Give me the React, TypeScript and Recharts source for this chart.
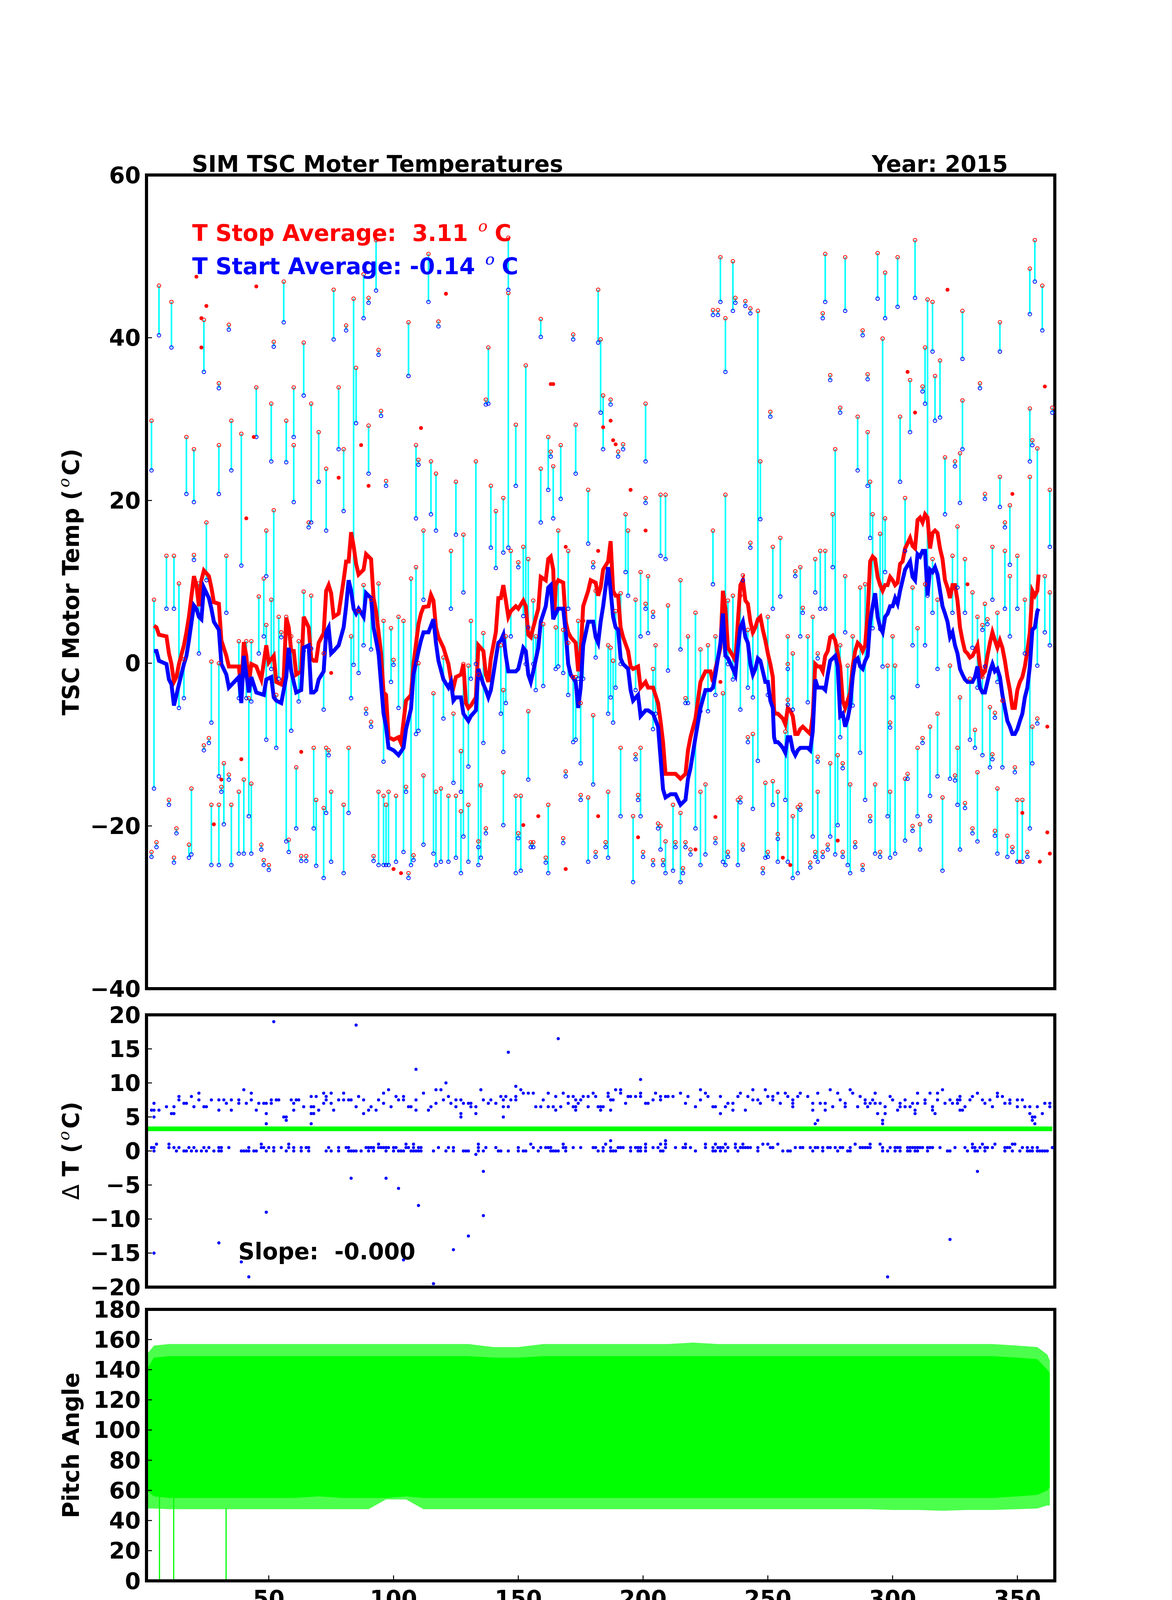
import React from 'react';
import { ComposedChart, Line, Scatter, Area, XAxis, YAxis } from 'recharts';

const FONT = 'DejaVu Sans';
const PAGE_W = 3000;
const PAGE_H = 4492;

const DAY_DOMAIN: [number, number] = [1, 365];
const DAY_TICKS = [50, 100, 150, 200, 250, 300, 350];
const TEMP_TICKS = [-40, -20, 0, 20, 40, 60];
const DELTA_TICKS = [-20, -15, -10, -5, 0, 5, 10, 15, 20];
const PITCH_TICKS = [0, 20, 40, 60, 80, 100, 120, 140, 160, 180];

const YEAR = 2015;
const STOP_AVERAGE = '3.11';
const START_AVERAGE = '-0.14';
const SLOPE = '-0.000';

// one entry per move: [yday, T stop, T start]
const tscMoves: [number, number, number][] = [
  [3, 29.8, 23.7], [3, -23.2, -23.8], [4, 7.8, -15.4], [5, -22.0, -22.6], [6, 46.4, 40.3],
  [9, 13.2, 6.7], [10, -16.8, -17.4], [11, 44.4, 38.8], [12, 13.2, 6.7], [12, -23.9, -24.5],
  [13, -20.3, -20.9], [14, 9.8, -5.5], [16, 0.5, -4.3], [17, 27.8, 20.8], [18, -22.3, -23.9],
  [19, -15.4, -23.5], [20, 26.3, 19.8], [20, 13.3, 12.7], [22, 9.8, 1.2], [24, 42.2, 35.8],
  [24, -10.1, -10.7], [25, 17.3, 10.2], [26, -9.2, -9.8], [27, 0.2, -7.3], [27, -17.4, -24.8],
  [30, 26.8, 20.8], [30, 34.4, 33.8], [30, 0.0, -13.9], [30, -17.4, -24.8], [31, -15.2, -15.8],
  [32, -12.3, -19.8], [33, 13.2, 6.2], [34, 41.6, 41.0], [34, -13.7, -14.3], [35, 29.8, 23.7],
  [35, -17.4, -24.8], [38, 2.7, -4.3], [38, -15.8, -23.4], [39, 28.2, 12.0], [40, -14.3, -23.4],
  [41, 2.7, -4.3], [42, -4.3, -18.8], [43, 2.7, -4.7], [43, -14.8, -23.4], [45, 33.9, 27.8],
  [46, 8.2, 1.2], [47, -22.3, -22.9], [48, 10.4, 3.3], [48, -24.2, -24.8], [49, 16.3, 10.7],
  [49, 4.7, -9.4], [50, -24.8, -25.4], [51, 31.9, 24.8], [51, 7.8, -0.7], [52, 18.8, -4.0],
  [52, 39.5, 38.9], [53, -3.9, -10.4], [54, 5.7, -1.9], [55, 3.8, 3.2], [56, 46.9, 41.9],
  [57, 29.8, 24.7], [57, 5.7, -21.9], [58, -21.7, -23.2], [59, 3.3, -8.3], [60, 33.9, 27.8],
  [60, 26.8, 19.8], [61, -12.8, -20.3], [62, 2.7, -4.7], [63, -23.7, -24.3], [64, 39.4, 32.9],
  [64, 8.8, 1.5], [65, -23.7, -24.3], [66, 17.3, 16.7], [67, 31.9, 17.3], [67, 8.3, 1.8],
  [68, -10.4, -20.3], [69, -16.8, -24.9], [70, 28.4, 22.3], [72, 1.2, -5.7], [72, -17.8, -26.4],
  [73, 23.9, 16.3], [73, -10.4, -18.4], [74, -10.7, -11.3], [75, -15.8, -24.4], [76, 45.9, 39.8],
  [78, 33.9, 26.3], [80, 26.3, 18.7], [80, -17.4, -25.8], [81, 41.5, 40.9], [82, -10.4, -18.4],
  [83, 3.3, -4.3], [84, 44.8, -0.2], [85, 36.3, 29.5], [86, 6.4, -1.2], [88, 47.8, 42.4],
  [88, 9.6, 2.2], [89, -5.6, -6.2], [90, 29.2, 23.3], [90, 44.9, 44.3], [91, 7.8, 1.7],
  [91, -7.2, -7.8], [92, -23.7, -24.3], [93, 52.0, 45.8], [94, 9.8, 1.2], [94, -15.8, -24.8],
  [94, 38.5, 37.9], [95, 31.0, 30.4], [96, 5.2, -12.1], [96, -16.3, -24.8], [97, 22.4, 21.8],
  [97, -17.4, -24.8], [98, -15.8, -24.8], [99, 4.3, -2.3], [100, 0.4, -0.2], [101, -16.3, -24.4],
  [102, 5.7, -5.5], [104, 5.2, -23.2], [105, -15.2, -15.8], [106, 41.9, 35.3], [106, -25.8, -26.4],
  [107, 10.4, -24.8], [108, -23.6, -24.2], [109, 26.8, 17.8], [109, 11.8, -8.7], [110, 25.0, 24.4],
  [110, 0.0, -8.3], [112, 16.3, 7.8], [112, -13.8, -22.3], [114, 50.3, 44.4], [115, 24.8, 18.3],
  [116, -3.7, -23.4], [117, 23.3, 16.3], [117, -15.8, -24.8], [118, 42.0, 41.4], [119, -15.4, -24.4],
  [120, 0.7, -6.8], [122, -16.3, -24.4], [123, 13.8, 6.7], [124, -6.2, -14.7], [125, 22.3, 15.8],
  [125, -16.3, -23.9], [127, -10.8, -15.8], [127, -18.2, -25.8], [128, 15.8, 8.7], [128, -0.1, -21.3],
  [130, -0.3, -12.7], [130, -17.4, -24.4], [131, 5.2, -1.9], [133, 24.8, -0.1], [134, -21.9, -24.8],
  [134, -1.4, -22.6], [135, -15.0, -23.9], [136, 3.7, -9.8], [137, -20.3, -20.9], [137, 32.4, 31.8],
  [138, 38.8, 31.9], [139, 21.8, 14.2], [141, 18.7, 11.7], [143, 2.2, -6.2], [144, 20.3, 13.6],
  [144, -3.3, -10.9], [144, -13.4, -19.9], [145, 3.3, -4.9], [146, 45.5, 14.2], [146, 52.3, 45.9],
  [147, 13.8, 3.3], [149, 29.3, 21.8], [149, -16.3, -25.8], [150, 12.4, 11.8], [150, -20.9, -21.5],
  [151, -16.3, -25.5], [152, 14.3, 5.8], [153, 36.6, -0.1], [154, 12.8, 4.4], [154, -5.9, -14.3],
  [155, -22.0, -22.6], [156, 7.7, -0.1], [156, -22.0, -22.6], [157, 3.3, -3.3], [159, 23.9, 17.3],
  [159, 42.3, 40.1], [160, 4.8, -2.8], [161, -23.9, -24.5], [162, 27.8, 21.3], [162, -17.4, -25.8],
  [163, 26.0, 25.4], [164, 24.2, 17.8], [165, 4.4, -0.7], [166, 16.3, -0.4], [167, 26.8, 20.2],
  [168, 4.1, -1.2], [168, -21.5, -22.1], [169, -13.3, -13.9], [170, 13.8, 6.7], [170, 2.5, -3.9],
  [172, -1.7, -9.7], [172, 40.4, 39.8], [173, 29.3, 23.3], [173, -1.7, -9.4], [174, 5.2, -1.9],
  [175, -4.9, -12.3], [175, -16.2, -16.8], [176, 5.2, -1.9], [178, 21.3, 14.7], [178, -16.5, -24.4],
  [180, -6.4, -14.9], [180, 12.4, 11.8], [181, 8.9, 0.7], [181, -23.2, -23.8], [182, 45.9, 39.4],
  [183, 39.8, 30.8], [184, 32.9, 26.3], [185, -22.0, -22.6], [186, 2.2, -6.2], [186, -15.8, -23.9],
  [187, 32.4, 31.8], [187, 1.9, -4.2], [188, 0.3, -7.3], [189, 6.4, -3.0], [190, 26.0, 25.4],
  [191, 8.6, -0.1], [191, -10.4, -18.8], [192, 26.9, 26.3], [193, 18.3, 11.2], [194, 16.3, 8.3],
  [196, -18.8, -26.9], [197, 7.8, -3.3], [197, -11.2, -11.8], [198, -16.2, -16.8], [199, 11.2, 3.3],
  [199, -10.4, -18.8], [200, -23.2, -23.8], [201, 31.9, 24.8], [201, 20.3, 19.7], [201, 7.3, 6.7],
  [202, 10.7, 3.7], [204, 6.3, 5.7], [204, -0.7, -8.1], [204, -24.2, -24.8], [205, 2.2, -6.2],
  [206, -19.7, -20.3], [207, 20.7, 13.2], [207, -20.0, -22.9], [208, -24.2, -24.8], [209, 20.7, 12.8],
  [209, -21.9, -25.8], [210, 7.1, -0.9], [212, -17.4, -25.5], [213, -22.0, -22.6], [215, 10.2, 1.7],
  [215, -18.4, -26.9], [216, -25.2, -25.8], [217, -22.0, -22.6], [217, -4.3, -4.9], [218, 3.3, -4.9],
  [219, -22.9, -23.5], [221, 6.2, -20.3], [223, 1.7, -5.9], [223, -15.8, -24.8], [225, -14.9, -23.5],
  [226, 2.2, -5.9], [228, 16.3, 9.7], [228, 43.4, 42.8], [229, -21.5, -22.1], [229, 3.3, -3.9],
  [230, 43.4, 42.8], [231, 49.9, 44.4], [232, -3.7, -24.4], [233, 42.4, 35.8], [233, 20.7, -24.8],
  [234, 7.7, -0.1], [234, -23.2, -23.8], [236, 49.4, 43.3], [236, 8.3, -2.0], [237, 44.9, 44.3],
  [238, -16.8, -24.8], [239, 8.3, -5.7], [239, -16.5, -17.1], [240, 10.8, 10.2], [240, -22.3, -22.9],
  [241, 44.5, 43.9], [242, 4.1, -3.0], [242, -9.1, -9.7], [243, 43.6, 43.0], [243, 14.8, 14.2],
  [244, -8.7, -17.9], [244, 3.8, -4.2], [246, 43.3, -12.0], [247, 24.8, 17.7], [248, -25.2, -25.8],
  [249, -14.7, -23.9], [250, 5.7, -3.9], [250, -23.2, -23.8], [251, 30.9, 30.3], [252, 14.3, 6.7],
  [252, -14.5, -17.4], [254, -15.8, -24.4], [254, -21.0, -21.6], [255, 15.4, 8.2], [257, -8.4, -16.8],
  [258, 3.3, -24.4], [258, -0.1, -0.7], [258, -4.5, -5.1], [260, 1.2, -5.7], [260, -18.8, -26.4],
  [261, 11.3, 10.7], [262, -17.7, -25.8], [263, 11.8, 3.3], [263, -17.4, -18.0], [264, 6.8, 6.2],
  [266, 3.3, -4.8], [267, -24.5, -25.1], [268, 5.7, -21.3], [269, 12.8, 8.7], [269, -23.2, -23.8],
  [270, -15.8, -24.4], [270, -11.5, -12.1], [270, 1.2, 0.6], [271, 13.8, 6.7], [272, 43.0, 42.4],
  [272, -23.2, -23.8], [273, 50.3, 44.4], [273, 13.8, 6.7], [274, -22.3, -22.9], [275, -12.3, -21.3],
  [275, 35.4, 34.8], [276, 18.3, 11.8], [277, 26.3, -23.5], [278, -11.3, -19.9], [279, 31.4, 30.8],
  [279, 2.2, -9.1], [280, -12.3, -12.9], [280, -23.2, -23.8], [281, 49.9, 43.3], [281, 10.7, 3.8],
  [282, -0.3, -24.8], [283, -14.9, -25.8], [284, 3.3, -5.2], [285, -22.0, -22.6], [286, 30.3, 23.7],
  [287, 9.3, -11.0], [288, -24.8, -25.4], [288, 40.9, 40.3], [289, 9.7, -16.8], [290, 28.4, 21.8],
  [290, 35.5, 34.9], [291, 22.3, 15.4], [291, -18.8, -19.4], [292, 18.3, 4.3], [293, -14.9, -23.4],
  [294, 50.4, 44.8], [295, 15.9, 4.2], [295, -23.2, -23.8], [296, 39.9, -0.4], [297, 48.0, 42.4],
  [297, 17.8, 11.2], [298, -0.3, -18.8], [299, -15.8, -23.9], [299, -7.3, -7.9], [300, 3.3, -4.2],
  [301, -0.3, -23.4], [302, 49.9, 43.8], [303, 30.3, 22.3], [305, 20.3, 13.8], [305, -14.2, -21.8],
  [306, -13.6, -14.2], [307, 34.8, 28.4], [308, 9.3, 2.2], [308, -20.0, -20.6], [309, 52.0, 44.9],
  [310, 4.3, -2.8], [310, -10.4, -18.8], [311, -19.8, -22.9], [312, 34.0, 33.4], [312, -9.2, -9.8],
  [313, 38.8, 31.9], [313, 9.7, 2.2], [314, 44.7, 8.3], [315, -7.8, -16.3], [315, -18.8, -19.4],
  [316, 44.4, 38.3], [316, 12.8, 6.2], [317, 35.3, 29.8], [318, 7.8, -0.7], [318, -6.2, -13.9],
  [319, 37.2, 30.2], [320, -16.5, -25.5], [321, 25.3, 18.3], [323, -0.3, -14.2], [324, 13.2, 6.2],
  [325, 24.8, 24.2], [325, -13.8, -14.4], [326, 16.8, 9.3], [326, -10.4, -17.4], [327, 25.8, 19.7],
  [327, -4.2, -22.9], [328, 43.3, 37.4], [328, 32.3, 26.3], [329, 12.8, 6.2], [329, -17.2, -17.8],
  [331, -1.9, -9.4], [332, 8.7, 1.9], [332, -20.3, -20.9], [333, -8.2, -10.4], [334, -13.4, -21.9],
  [334, 5.7, -3.0], [335, 34.4, 33.8], [336, -1.7, -11.3], [336, 4.7, 4.1], [337, 20.8, 20.2],
  [337, 7.3, -0.4], [338, 5.4, 4.8], [339, -5.4, -12.8], [340, 14.3, 7.8], [340, -11.2, -11.8],
  [341, -6.1, -6.7], [341, -20.6, -21.2], [342, 6.2, -2.3], [342, -15.4, -23.4], [343, 41.9, 38.3],
  [343, 22.9, 19.2], [344, -4.6, -12.8], [345, 13.8, 6.7], [345, 17.3, 16.7], [346, -21.2, -23.8],
  [347, 19.4, 12.1], [347, 10.7, 3.3], [348, -22.6, -23.2], [349, -12.8, -13.4], [350, 13.2, 6.7],
  [350, -16.8, -24.4], [352, -16.8, -24.4], [353, 7.8, 1.2], [354, -23.2, -23.8], [355, 48.5, 42.9],
  [355, 31.3, 24.8], [355, 22.9, -20.3], [356, 27.4, 26.8], [356, -7.8, -12.3], [357, 52.0, 46.9],
  [358, 26.4, -0.3], [358, -6.8, -7.4], [360, 46.4, 40.9], [361, 10.7, 3.8], [363, 21.3, 14.3],
  [363, 8.7, 2.2], [364, 31.4, 30.8],
];

// stop temperatures without a matching start
const stopOnly: [number, number][] = [
  [21, 47.5], [23, 42.4], [23, 38.8], [25, 43.9], [28, -19.8], [31, -14.3], [39, -11.8], [41, 17.8],
  [44, 27.8], [45, 46.3], [63, -10.9], [75, -1.2], [78, 22.8], [87, 26.8], [90, 21.8], [100, -25.3],
  [103, -25.8], [111, 28.9], [121, 45.4], [152, -19.9], [158, -18.8], [163, 34.3], [164, 34.3],
  [169, 14.3], [169, -25.3], [182, 13.8], [182, -18.8], [184, 29.0], [187, 29.8], [188, 27.4],
  [189, 26.9], [195, 21.3], [198, -21.4], [201, 16.3], [221, -22.9], [229, -18.9], [231, -2.3],
  [256, -23.9], [259, -24.8], [278, -21.8], [306, 35.8], [309, 30.8], [322, 45.9], [330, 9.7],
  [348, 20.8], [351, -24.4], [352, -18.4], [359, -24.4], [361, 34.0], [362, -7.8], [362, -20.8],
  [363, -23.4],
];

const stopAvg: [number, number][] = [
  [4, 4.6], [5, 4.4], [6, 3.5], [9, 3.3], [10, 1.2], [11, -0.1], [12, -2.3], [13, -1.7], [14, -0.1],
  [16, 2.2], [17, 3.8], [18, 5.7], [20, 10.7], [21, 9.6], [22, 7.0], [23, 10.2], [24, 11.4], [26, 10.7],
  [27, 9.3], [28, 7.5], [30, 7.3], [31, 2.8], [33, 0.9], [34, -0.4], [38, -0.4], [39, -3.3], [40, 2.6],
  [41, 0.9], [42, -2.6], [43, -0.1], [45, -0.4], [47, -2.0], [49, 2.2], [50, 0.1], [52, 0.9], [53, -2.3],
  [55, -2.6], [56, -1.7], [57, 5.6], [58, 4.4], [59, 1.5], [60, 1.5], [61, -1.4], [63, -1.0], [64, 5.7],
  [66, 4.4], [67, 0.6], [68, 0.3], [69, 0.3], [70, 2.5], [72, 3.7], [73, 8.9], [74, 9.6], [75, 8.6],
  [76, 5.7], [78, 6.1], [80, 10.2], [81, 12.5], [82, 12.5], [83, 16.1], [84, 14.4], [85, 12.2],
  [86, 10.9], [88, 11.5], [89, 13.4], [91, 12.8], [92, 8.0], [93, 6.4], [94, 3.8], [95, 1.2], [96, -3.6],
  [97, -3.9], [98, -9.1], [100, -9.4], [102, -9.1], [103, -9.8], [105, -4.6], [107, -3.9], [108, -0.1],
  [110, 4.8], [111, 6.1], [112, 6.9], [114, 7.0], [115, 8.4], [116, 7.7], [117, 4.4], [118, 3.2],
  [120, 1.9], [122, -0.1], [123, -2.0], [124, -3.0], [125, -1.7], [127, -1.4], [128, -0.1], [129, -4.9],
  [130, -5.5], [131, -5.2], [133, -4.2], [134, 2.2], [136, 1.5], [137, -1.4], [138, -2.3], [139, 0.6],
  [141, 3.8], [142, 8.0], [143, 8.0], [144, 9.6], [145, 7.7], [146, 5.7], [147, 6.4], [149, 7.0],
  [150, 6.7], [152, 7.7], [153, 7.0], [154, 3.5], [155, 3.2], [156, 4.4], [158, 6.7], [159, 10.6],
  [161, 10.2], [162, 12.8], [163, 13.1], [164, 11.5], [164.5, 6.4], [165, 9.6], [166, 10.2], [168, 9.9],
  [169, 5.1], [170, 3.8], [171, 3.2], [173, 2.5], [174, -1.0], [175, 1.5], [176, 7.0], [178, 8.9],
  [179, 10.2], [181, 9.9], [182, 8.3], [183, 9.3], [184, 11.5], [186, 12.5], [187, 15.0], [188, 8.9],
  [189, 8.3], [190, 8.3], [191, 4.4], [192, 3.2], [194, 1.5], [195, -0.4], [196, -0.7], [198, -0.4],
  [199, -3.0], [201, -2.3], [202, -3.0], [204, -3.0], [206, -4.9], [207, -7.1], [208, -9.7], [209, -13.6],
  [211, -13.6], [213, -13.6], [215, -14.2], [217, -13.6], [218, -10.7], [219, -9.1], [221, -6.8],
  [223, -2.3], [225, -1.0], [227, -1.0], [228, -2.3], [229, -0.7], [231, 1.9], [232, 8.9], [233, 6.7],
  [234, 1.9], [236, 0.9], [237, 0.3], [238, 5.1], [239, 9.6], [240, 10.2], [241, 7.7], [242, 7.3],
  [243, 5.1], [244, 3.8], [245, 4.4], [246, 5.4], [247, 5.7], [248, 4.1], [249, 2.8], [250, 1.2],
  [251, -0.1], [252, -1.7], [252.5, -5.8], [253, -6.2], [254, -6.2], [255, -6.5], [256, -6.8],
  [257, -7.5], [258, -5.5], [259, -5.8], [260, -6.5], [261, -8.7], [262, -8.7], [263, -8.1], [264, -7.8],
  [265, -8.1], [266, -8.4], [267, -8.7], [268, -6.5], [269, -0.1], [270, -0.4], [271, -0.4], [272, -1.0],
  [273, 0.9], [274, 1.5], [275, 3.2], [276, 3.4], [277, 2.8], [278, 1.2], [279, -0.4], [280, -4.6],
  [281, -5.5], [282, -4.6], [283, -3.6], [284, -0.4], [285, 1.5], [286, 2.5], [287, 2.2], [288, 1.5],
  [289, 2.2], [290, 6.1], [291, 12.5], [292, 13.1], [293, 12.8], [294, 10.6], [295, 9.6], [296, 8.9],
  [297, 9.6], [298, 9.6], [299, 10.6], [300, 10.2], [301, 9.6], [302, 9.9], [303, 12.2], [304, 12.5],
  [305, 14.1], [307, 15.4], [308, 14.4], [309, 14.1], [310, 17.6], [311, 17.9], [312, 17.3], [313, 18.3],
  [314, 17.9], [315, 14.1], [316, 16.0], [317, 16.3], [318, 16.0], [319, 14.1], [320, 12.8], [321, 10.2],
  [322, 9.3], [323, 8.0], [324, 9.6], [325, 9.6], [326, 7.7], [327, 4.4], [328, 2.8], [329, 1.5],
  [330, 1.2], [331, 0.7], [332, 0.9], [333, 1.5], [334, 2.2], [335, -0.4], [336, -1.4], [337, -1.0],
  [338, 0.9], [339, 2.5], [340, 3.8], [341, 2.8], [342, 1.9], [343, 2.8], [344, 1.9], [345, 0.3],
  [346, -1.7], [347, -3.3], [348, -5.5], [349, -5.5], [350, -3.3], [351, -2.3], [352, -1.7], [353, -0.4],
  [354, 1.5], [355, 3.8], [356, 8.9], [357, 8.3], [358, 8.9], [358.5, 10.9],
];

const startAvg: [number, number][] = [
  [4, 1.5], [5, 1.5], [6, 0.3], [9, -0.1], [10, -2.0], [11, -2.6], [12, -5.2], [14, -2.6], [16, -0.1],
  [17, 0.9], [18, 2.8], [20, 7.1], [21, 6.7], [22, 5.7], [23, 5.4], [24, 9.3], [26, 8.0], [27, 6.7],
  [28, 5.1], [30, 4.1], [31, -0.1], [33, -1.4], [34, -3.0], [38, -1.7], [39, -4.9], [40, 0.9], [42, -3.6],
  [43, -1.7], [45, -3.6], [48, -3.9], [49, -2.0], [51, -1.7], [52, -4.2], [53, -4.6], [55, -4.9],
  [57, -1.7], [58, 1.9], [59, -1.0], [60, -2.3], [61, -3.6], [63, -3.3], [64, 1.9], [66, 2.2], [67, -3.6],
  [68, -3.6], [69, -3.3], [70, -2.0], [72, -1.0], [73, 3.8], [74, 4.4], [75, 1.2], [76, 1.5], [78, 2.2],
  [80, 4.4], [81, 7.0], [82, 10.2], [83, 8.9], [84, 6.7], [85, 6.1], [86, 6.7], [88, 5.7], [89, 8.6],
  [91, 8.0], [92, 4.4], [94, 1.2], [96, -6.2], [97, -7.8], [98, -10.4], [100, -10.7], [102, -11.3],
  [104, -10.4], [105, -8.1], [107, -5.6], [108, -1.4], [110, 1.5], [111, 2.8], [112, 3.8], [114, 3.8],
  [116, 5.4], [117, 2.5], [118, 0.3], [120, -2.0], [122, -3.0], [123, -2.3], [124, -4.6], [125, -4.2],
  [127, -4.2], [128, -6.2], [130, -7.1], [131, -6.5], [133, -5.8], [134, -0.7], [136, -2.6], [137, -3.3],
  [138, -4.2], [139, -3.3], [141, 0.6], [142, 2.5], [143, 2.8], [144, 3.5], [145, 0.9], [146, -1.0],
  [149, -1.0], [150, -0.7], [152, 1.9], [153, 1.5], [154, -1.4], [155, -2.3], [156, -1.0], [158, 1.9],
  [159, 5.1], [161, 7.0], [162, 9.3], [163, 9.6], [164, 5.4], [165, 6.1], [166, 6.7], [168, 6.7],
  [169, 3.8], [170, -0.1], [171, -1.4], [173, -2.3], [174, -5.5], [175, -3.0], [176, 2.2], [178, 5.1],
  [180, 5.1], [181, 3.2], [182, 2.5], [183, 5.1], [184, 7.0], [186, 11.8], [187, 8.9], [188, 5.7],
  [189, 4.4], [190, 4.1], [191, 0.6], [192, -0.1], [194, -0.7], [195, -3.3], [196, -4.6], [198, -3.9],
  [199, -6.5], [201, -5.8], [202, -5.8], [204, -6.2], [206, -7.8], [207, -11.6], [208, -15.5],
  [209, -16.5], [211, -16.1], [213, -16.1], [215, -17.4], [217, -16.8], [218, -14.2], [219, -12.9],
  [221, -9.1], [223, -5.5], [225, -3.3], [227, -3.3], [228, -3.0], [229, -1.4], [231, 2.5], [232, 6.1],
  [233, 0.9], [234, 0.6], [236, -0.7], [237, -1.4], [238, 1.9], [239, 4.4], [240, 5.1], [241, 3.2],
  [242, 2.5], [243, -0.1], [244, -1.4], [245, -0.7], [246, 0.6], [247, 0.3], [248, -1.0], [249, -2.3],
  [250, -2.3], [251, -4.6], [252, -5.5], [252.5, -9.1], [253, -9.7], [254, -9.7], [255, -10.0],
  [256, -10.4], [257, -11.0], [258, -9.1], [259, -9.1], [260, -10.7], [261, -11.3], [262, -10.7],
  [263, -10.4], [264, -10.4], [265, -10.4], [266, -10.4], [267, -10.7], [268, -8.4], [269, -2.0],
  [270, -3.0], [271, -3.0], [272, -3.0], [273, -3.3], [274, -1.4], [275, 0.3], [276, 0.6], [277, 0.9],
  [278, -0.4], [279, -6.5], [280, -6.2], [281, -7.8], [282, -6.8], [283, -5.2], [284, -1.7], [285, 0.3],
  [286, 0.6], [287, -0.4], [288, -0.7], [289, 0.3], [290, 0.9], [291, 5.1], [292, 7.0], [293, 8.6],
  [294, 5.7], [295, 4.4], [296, 3.8], [297, 5.7], [298, 6.1], [299, 7.0], [300, 7.0], [301, 8.0],
  [302, 7.3], [303, 8.9], [304, 10.2], [305, 11.5], [307, 12.5], [308, 10.6], [309, 10.2], [310, 13.4],
  [311, 13.1], [312, 13.8], [313, 13.8], [314, 8.3], [315, 11.5], [316, 11.2], [317, 11.8], [318, 10.9],
  [319, 8.9], [320, 7.0], [321, 6.1], [322, 5.1], [323, 3.2], [324, 3.8], [325, 2.2], [326, 1.2],
  [327, -0.7], [328, -1.4], [329, -2.0], [330, -2.3], [331, -2.3], [332, -2.3], [333, -1.7], [334, -0.4],
  [335, -3.0], [336, -3.6], [337, -3.6], [338, -2.3], [339, -1.0], [340, -0.1], [341, -1.0], [342, -0.7],
  [343, -1.7], [344, -3.9], [345, -5.5], [346, -7.1], [347, -7.8], [348, -8.7], [349, -8.7], [350, -8.1],
  [351, -7.1], [352, -6.2], [353, -4.2], [354, -3.0], [355, -0.4], [356, 4.1], [357, 4.4], [358, 6.4],
  [358.5, 6.7],
];

// T stop - T start per move: [yday, delta]
const deltaT: [number, number][] = [
  [3, 6], [4, 6], [4, 7], [4, 5], [6, 6], [9, 6.5], [11, 5.5], [12, 5.5], [12, 6.5], [14, 7.5], [14, 8],
  [16, 7], [17, 7], [19, 8], [20, 6.5], [22, 7.5], [22, 8.5], [24, 6.5], [25, 6.5], [27, 7.5], [30, 7.5],
  [30, 6], [32, 7.5], [33, 7], [35, 7.5], [35, 6], [38, 7.5], [38, 7], [40, 9], [41, 7], [43, 8.5],
  [43, 7.5], [45, 6], [46, 7], [48, 7], [49, 7], [49, 5.5], [49, 4], [51, 7], [51, 7.5], [53, 7.5],
  [54, 7.5], [56, 5], [57, 5], [57, 4.5], [59, 7.5], [60, 7], [60, 6], [61, 7.5], [62, 7.5], [64, 6.5],
  [67, 8], [67, 6.5], [67, 5.5], [67, 4], [68, 6.5], [68, 5.5], [69, 8], [70, 6], [72, 8.5], [72, 7],
  [73, 8], [73, 7.5], [75, 8.5], [75, 7], [76, 6], [78, 7.5], [80, 8.5], [80, 7.5], [82, 7.5], [83, 7.5],
  [85, 6.5], [86, 8], [88, 7.5], [88, 5.5], [90, 6], [91, 6.5], [93, 6], [94, 7.5], [96, 8.5], [96, 7],
  [98, 9], [99, 6.5], [101, 8], [102, 7.5], [104, 8], [104, 7.5], [106, 6.5], [107, 6.5], [109, 7.5],
  [109, 6], [112, 8.5], [114, 6], [115, 6.5], [117, 9], [117, 7], [119, 9], [120, 7.5], [121, 10],
  [122, 8], [123, 7], [125, 7.5], [125, 6.5], [127, 7.5], [127, 5.5], [127, 5], [128, 7], [130, 7],
  [131, 7], [131, 6.5], [133, 6.5], [133, 5.5], [135, 9], [136, 7.5], [138, 7], [139, 7.5], [141, 7],
  [143, 8], [144, 7.5], [144, 6.5], [144, 5], [145, 8], [146, 6.5], [147, 7.5], [149, 8], [149, 7.5],
  [149, 9.5], [151, 9], [152, 8.5], [154, 8.5], [156, 8.5], [157, 6.5], [159, 6.5], [160, 7.5],
  [162, 8.5], [162, 6.5], [164, 6.5], [165, 8], [165, 6], [167, 6.5], [168, 8.5], [170, 8], [170, 7],
  [172, 8], [172, 6.5], [173, 7.5], [173, 6.5], [173, 6], [174, 7], [175, 7.5], [176, 8], [178, 8],
  [178, 6.5], [180, 8.5], [181, 8], [182, 6.5], [183, 6.5], [183, 6], [184, 6.5], [186, 8.5], [186, 8],
  [187, 7.5], [187, 6], [188, 7.5], [189, 9], [191, 9], [191, 8.5], [193, 7], [194, 8], [195, 8],
  [197, 8], [199, 10.5], [199, 8.5], [199, 8], [201, 7], [202, 7], [204, 7.5], [205, 8.5], [207, 8],
  [207, 7.5], [209, 8], [210, 8], [212, 8], [215, 8.5], [217, 7], [218, 8], [221, 6.5], [223, 9],
  [223, 7.5], [225, 8.5], [226, 8], [228, 6.5], [229, 6.5], [231, 8], [231, 5.5], [233, 6.5], [234, 7],
  [236, 7], [236, 6], [238, 8], [239, 8.5], [241, 6], [242, 8], [244, 9], [244, 7.5], [246, 7.5],
  [247, 7], [249, 9], [250, 8], [252, 8], [252, 7.5], [254, 8.5], [255, 7], [257, 8.5], [258, 8],
  [260, 7.5], [260, 7], [260, 6.5], [262, 8], [263, 8.5], [266, 8], [268, 7], [268, 6], [269, 4],
  [270, 4.5], [270, 8.5], [271, 7], [273, 7], [273, 6], [275, 9], [276, 6.5], [278, 8.5], [279, 7.5],
  [281, 7], [281, 6.5], [283, 9], [284, 8.5], [286, 6.5], [287, 8], [289, 7.5], [289, 7], [290, 6.5],
  [291, 7], [292, 7.5], [293, 8.5], [293, 7], [294, 5.5], [295, 7], [296, 4.5], [296, 4], [297, 6.5],
  [297, 5.5], [299, 8], [300, 7.5], [302, 6], [303, 7], [303, 6.5], [305, 7.5], [305, 6.5], [307, 6.5],
  [308, 7], [309, 6], [309, 5.5], [310, 8.5], [310, 7], [313, 7.5], [313, 7], [315, 8.5], [316, 6.5],
  [316, 6], [317, 5.5], [318, 8.5], [318, 7.5], [320, 9], [321, 7], [323, 7.5], [324, 7], [326, 7.5],
  [326, 7], [327, 8], [327, 7.5], [327, 6], [328, 6], [329, 6.5], [331, 7.5], [332, 8], [334, 8.5],
  [336, 7.5], [337, 7], [339, 7.5], [340, 6.5], [342, 8.5], [342, 8], [344, 8], [345, 7], [347, 7.5],
  [347, 7], [350, 7.5], [350, 6.5], [352, 7.5], [353, 6.5], [355, 6.5], [355, 5.5], [356, 5], [356, 4.5],
  [357, 5], [357, 4], [358, 6.5], [360, 5.5], [361, 7], [363, 7], [363, 6.5],
  [52, 19], [85, 18.5], [146, 14.5], [166, 16.5], [109, 12], [83, -4], [97, -4], [102, -5.5], [110, -8],
  [136, -3], [136, -9.5], [49, -9], [130, -12.5], [30, -13.5], [124, -14.5], [4, -15], [104, -16],
  [39, -16.3], [42, -18.5], [116, -19.5], [334, -3], [323, -13], [298, -18.5],
  [3, 0.5], [4, 0.5], [4, 0], [5, 1], [10, 1], [10, 0.5], [12, 0.5], [13, 0], [14, 0.5], [16, 0], [17, 0],
  [18, 0.5], [19, 0], [20, 0.5], [21, 0], [23, 0], [24, 0.5], [25, 0], [26, 0.5], [28, 0], [30, 0.5],
  [30, 0], [31, 0.5], [31, 0], [34, 0.5], [39, 0], [40, 0], [41, 0], [42, 0.5], [42, 0], [44, 0], [45, 0],
  [47, 1], [47, 0.5], [48, 0.5], [49, 0], [50, 0.5], [52, 0.5], [52, 0], [55, 0.5], [57, 0], [58, 1],
  [58, 0.5], [60, 0.5], [60, 0], [63, 0.5], [63, 0], [65, 0.5], [66, 0.5], [66, 0], [73, 0], [74, 0.5],
  [75, 0], [78, 0.5], [78, 0], [81, 0.5], [82, 0.5], [82, 0], [83, 0], [84, 0], [85, 0], [87, 0],
  [89, 0.5], [90, 0.5], [90, 0], [91, 0.5], [92, 0.5], [92, 0], [94, 1], [94, 0.5], [95, 0.5], [96, 0.5],
  [97, 0.5], [97, 0], [98, 0.5], [100, 0.5], [100, 0], [101, 0.5], [102, 0], [103, 0], [104, 0], [105, 1],
  [105, 0.5], [106, 0.5], [107, 0], [108, 1], [108, 0.5], [108, 0], [109, 0], [110, 0.5], [110, 0],
  [111, 0.5], [111, 0], [116, 0], [118, 0.5], [121, 0], [122, 0.5], [124, 0.5], [124, 0], [128, 0],
  [129, 0], [130, 0], [133, -0.5], [134, 1], [134, 0.5], [134, 0], [136, 0], [137, 0.5], [141, 0.5],
  [142, 0], [143, 0], [146, 0], [150, 0.5], [150, 0], [152, 0], [153, 0], [155, 1], [156, 0.5], [158, 0],
  [159, 0.5], [161, 0.5], [162, 0.5], [163, 0.5], [163, 0], [164, 0], [165, 0], [166, 0], [168, 1],
  [168, 0.5], [169, 0.5], [169, 0], [172, 0.5], [175, 0.5], [180, 0.5], [181, 0.5], [182, 0], [184, 0.5],
  [184, 0], [185, 1], [187, 1.5], [187, 0.5], [187, 0], [188, 0], [189, 0], [190, 0.5], [191, 0.5],
  [192, 0.5], [195, 0.5], [195, 0], [197, 0.5], [198, 0.5], [198, 0], [199, 0.5], [199, 0], [201, 1],
  [201, 0.5], [201, 0], [204, 0.5], [206, 0.5], [207, 1], [207, 0], [208, 0], [209, 1.5], [209, 1],
  [209, 0.5], [213, 0.5], [216, 0.5], [217, 1], [217, 0.5], [219, 0.5], [221, 0], [225, 1], [225, 0.5],
  [228, 0.5], [228, 0], [229, 1], [229, 0], [230, 0.5], [231, 0.5], [231, 0], [232, 0.5], [233, 1],
  [233, 0], [234, 0.5], [237, 1], [237, 0.5], [238, 0], [239, 0.5], [240, 1], [240, 0.5], [241, 0.5],
  [242, 0.5], [243, 0.5], [246, 0.5], [246, 0], [248, 1], [250, 1], [251, 0.5], [252, 0.5], [254, 1],
  [256, 0], [258, 0], [259, 0], [261, 0.5], [263, 0.5], [264, 0.5], [267, 0.5], [268, 0], [269, 0.5],
  [270, 0.5], [272, 0.5], [272, 0], [274, 0.5], [275, 0.5], [277, 0.5], [278, 0], [279, 0.5], [280, 0.5],
  [282, 0], [283, 0.5], [283, 0], [285, 1], [287, 0.5], [288, 0.5], [289, 0.5], [290, 0.5], [291, 1],
  [291, 0.5], [295, 1], [296, 0.5], [296, 0], [298, 0], [299, 0.5], [301, 0.5], [301, 0], [302, 0.5],
  [303, 0.5], [303, 0], [306, 0.5], [306, 0], [307, 0.5], [307, 0], [308, 0.5], [309, 0.5], [309, 0],
  [310, 0.5], [310, 0], [311, 0.5], [312, 0.5], [314, 0.5], [314, 0], [315, 0.5], [316, 0.5], [319, 0.5],
  [322, 0], [323, 0], [325, 0.5], [329, 0.5], [330, 0], [332, 1], [332, 0.5], [333, 0.5], [333, 0],
  [334, 0], [335, 0.5], [336, 1], [337, 0.5], [337, 0], [338, 0.5], [340, 0.5], [341, 1], [345, 0.5],
  [345, 0], [346, 0.5], [347, 0.5], [348, 1], [348, 0], [349, 1], [351, 0], [352, 0.5], [354, 0.5],
  [354, 0], [355, 0], [356, 0.5], [356, 0], [358, 0.5], [358, 0], [359, 0], [360, 0], [361, 0], [362, 0],
  [364, 0.5],
];

const deltaFit: [number, number][] = [[1, 3.25], [364, 3.25]];

// pitch envelope: [yday, outer low, inner low, inner high, outer high]
const pitchBand: [number, number, number, number, number][] = [
  [1, 48, 60, 140, 150], [4, 48, 56, 148, 156], [10, 47.5, 55, 149, 157], [20, 47.5, 55, 149, 157],
  [30, 47.5, 55, 149, 157], [40, 47.5, 55, 149, 157], [50, 47.5, 55, 149, 157], [60, 47.5, 55, 149, 157],
  [70, 47.5, 56, 149, 157], [80, 47.5, 55, 149, 157], [90, 47.5, 55, 149, 157], [97, 54, 55, 149, 157],
  [105, 54, 56, 149, 157], [112, 47.5, 55, 149, 157], [120, 47.5, 55, 149, 157], [130, 47.5, 55, 149, 157],
  [140, 47.5, 55, 148, 155], [150, 47.5, 55, 148, 155], [160, 47.5, 55, 149, 157], [170, 47.5, 55, 149, 157],
  [180, 47.5, 55, 149, 157], [190, 47.5, 55, 149, 157], [200, 47.5, 55, 149, 157], [210, 47.5, 55, 149, 157],
  [220, 47.5, 55, 149, 158], [230, 47.5, 55, 149, 157], [240, 47.5, 55, 149, 157], [250, 47.5, 55, 149, 157],
  [260, 47.5, 55, 149, 157], [270, 47.5, 55, 149, 157], [280, 47.5, 55, 149, 157], [290, 47.5, 55, 149, 157],
  [300, 47, 55, 149, 157], [310, 47, 55, 149, 157], [320, 46.5, 55, 149, 157], [330, 47, 55, 149, 157],
  [340, 47, 55, 149, 157], [350, 47.5, 56, 148, 156], [358, 48, 57, 147, 155], [362, 50, 60, 140, 150],
  [363, 50, 62, 138, 146],
];

// pitch drops towards zero: [yday, from, to]
const pitchDrops: [number, number, number][] = [[6.2, 77, 0], [11.9, 91, 0], [32.9, 48, 0]];

const minus = (v: number) => String(v).replace('-', '\u2212');

const tickFont = { fontSize: 58, fontFamily: FONT, fontWeight: 'bold', fill: '#000' };
const frameLine = { stroke: '#000', strokeWidth: 8, strokeLinecap: 'square' as const };
const tickMark = { stroke: '#000', strokeWidth: 2.5 };

function frame(yDomain: [number, number], yTicks: number[], xLabels: boolean, xHeight: number) {
  return [
    <XAxis
      key="xb"
      type="number"
      dataKey="day"
      domain={DAY_DOMAIN}
      ticks={DAY_TICKS}
      interval={0}
      allowDataOverflow
      height={xHeight}
      tickSize={-14}
      tickMargin={39}
      tick={xLabels ? tickFont : false}
      tickLine={tickMark}
      axisLine={frameLine}
    />,
    <XAxis
      key="xt"
      xAxisId="t"
      orientation="top"
      type="number"
      domain={DAY_DOMAIN}
      ticks={DAY_TICKS}
      interval={0}
      allowDataOverflow
      height={1}
      tickSize={-14}
      tick={false}
      tickLine={tickMark}
      axisLine={frameLine}
    />,
    <YAxis
      key="yl"
      type="number"
      dataKey="t"
      domain={yDomain}
      ticks={yTicks}
      interval={0}
      allowDataOverflow
      width={200}
      tickSize={-14}
      tickMargin={29}
      tick={tickFont}
      tickFormatter={minus}
      tickLine={tickMark}
      axisLine={frameLine}
    />,
    <YAxis
      key="yr"
      yAxisId="r"
      orientation="right"
      type="number"
      domain={yDomain}
      ticks={yTicks}
      interval={0}
      allowDataOverflow
      width={1}
      tickSize={-14}
      tick={false}
      tickLine={tickMark}
      axisLine={frameLine}
    />,
  ];
}

const hollow = (color: string) => (p: any) => (
  <circle cx={p.cx} cy={p.cy} r={4.5} fill="none" stroke={color} strokeWidth={2} />
);
const filled = (color: string, r: number) => (p: any) => (
  <circle cx={p.cx} cy={p.cy} r={r} fill={color} />
);

function TempPanel() {
  const segs = tscMoves.flatMap(([day, stop, start]) => [
    { day, t: stop },
    { day, t: start },
    { day, t: null },
  ]);
  const stops = tscMoves.map(([day, stop]) => ({ day, t: stop }));
  const starts = tscMoves.map(([day, , start]) => ({ day, t: start }));
  const lone = stopOnly.map(([day, t]) => ({ day, t }));
  const stopLine = stopAvg.map(([day, t]) => ({ day, t }));
  const startLine = startAvg.map(([day, t]) => ({ day, t }));
  return (
    <ComposedChart width={PAGE_W} height={2600} margin={{ top: 447, right: 299, bottom: 68, left: 175 }}>
      {frame([-40, 60], TEMP_TICKS, false, 1)}
      <Line data={segs} dataKey="t" stroke="#00ffff" strokeWidth={4} dot={false} connectNulls={false} isAnimationActive={false} />
      <Scatter data={stops} dataKey="t" shape={hollow('#ff0000')} isAnimationActive={false} />
      <Scatter data={starts} dataKey="t" shape={hollow('#0000ff')} isAnimationActive={false} />
      <Scatter data={lone} dataKey="t" shape={filled('#ff0000', 5)} isAnimationActive={false} />
      <Line data={stopLine} dataKey="t" stroke="#ff0000" strokeWidth={10} dot={false} isAnimationActive={false} />
      <Line data={startLine} dataKey="t" stroke="#0000ff" strokeWidth={10} dot={false} isAnimationActive={false} />
    </ComposedChart>
  );
}

function DeltaPanel() {
  const pts = deltaT.map(([day, t]) => ({ day, t }));
  const fit = deltaFit.map(([day, t]) => ({ day, t }));
  return (
    <ComposedChart width={PAGE_W} height={800} margin={{ top: 47, right: 299, bottom: 54, left: 175 }}>
      {frame([-20, 20], DELTA_TICKS, false, 1)}
      <Line data={fit} dataKey="t" stroke="#00ff00" strokeWidth={12} dot={false} isAnimationActive={false} />
      <Scatter data={pts} dataKey="t" shape={filled('#0000ff', 4)} isAnimationActive={false} />
    </ComposedChart>
  );
}

function PitchPanel() {
  const band = pitchBand.map(([day, ol, il, ih, oh]) => ({ day, outer: [ol, oh], inner: [il, ih] }));
  const drops = pitchDrops.flatMap(([day, a, b]) => [
    { day, t: a },
    { day, t: b },
    { day, t: null },
  ]);
  return (
    <ComposedChart width={PAGE_W} height={1000} margin={{ top: 51, right: 299, bottom: 153, left: 175 }}>
      {frame([0, 180], PITCH_TICKS, true, 100)}
      <Area data={band} dataKey="outer" type="linear" stroke="none" fill="#00ff00" fillOpacity={0.7} isAnimationActive={false} />
      <Area data={band} dataKey="inner" type="linear" stroke="none" fill="#00ff00" fillOpacity={1} isAnimationActive={false} />
      <Line data={drops} dataKey="t" stroke="#00ff00" strokeWidth={3} dot={false} connectNulls={false} isAnimationActive={false} />
    </ComposedChart>
  );
}

const sup = { fontFamily: 'DejaVu Serif', fontStyle: 'italic', fontWeight: 'normal', fontSize: 40 } as const;

function Labels() {
  const base = { fontFamily: FONT, fontWeight: 'bold', fontSize: 58, whiteSpace: 'pre' } as const;
  return (
    <svg width={PAGE_W} height={PAGE_H} style={{ position: 'absolute', left: 0, top: 0, pointerEvents: 'none' }}>
      <text x={491} y={440} style={base} fill="#000">SIM TSC Moter Temperatures</text>
      <text x={2580} y={440} style={base} fill="#000" textAnchor="end">{`Year: ${YEAR}`}</text>
      <text x={492} y={617} style={base} fill="#ff0000">
        {`T Stop Average:  ${STOP_AVERAGE}`}
        <tspan dx={26} dy={-25} style={sup}>o</tspan>
        <tspan dx={18} dy={25}>C</tspan>
      </text>
      <text x={492} y={702} style={base} fill="#0000ff">
        {`T Start Average: ${START_AVERAGE}`}
        <tspan dx={26} dy={-25} style={sup}>o</tspan>
        <tspan dx={18} dy={25}>C</tspan>
      </text>
      <text transform="translate(202,1490) rotate(-90)" style={base} fill="#000" textAnchor="middle">
        {'TSC Motor Temp ('}
        <tspan dx={6} dy={-25} style={sup}>o</tspan>
        <tspan dx={6} dy={25}>C)</tspan>
      </text>
      <text transform="translate(202,2946) rotate(-90)" style={base} fill="#000" textAnchor="middle">
        <tspan style={{ fontWeight: 'normal' }}>{'\u0394'}</tspan>
        {' T ('}
        <tspan dx={6} dy={-25} style={sup}>o</tspan>
        <tspan dx={6} dy={25}>C)</tspan>
      </text>
      <text transform="translate(202,3700) rotate(-90)" style={base} fill="#000" textAnchor="middle">Pitch Angle</text>
      <text x={1537} y={4188} style={base} fill="#000" textAnchor="middle">Time (yday)</text>
      <text x={610} y={3224} style={base} fill="#000">{`Slope:  ${SLOPE}`}</text>
    </svg>
  );
}

export default function App() {
  return (
    <div
      style={{
        position: 'relative',
        width: PAGE_W,
        height: PAGE_H,
        marginLeft: -8,
        marginTop: -8,
        background: '#fff',
        overflow: 'hidden',
      }}
    >
      <div style={{ position: 'absolute', left: 0, top: 0 }}>
        <TempPanel />
      </div>
      <div style={{ position: 'absolute', left: 0, top: 2550 }}>
        <DeltaPanel />
      </div>
      <div style={{ position: 'absolute', left: 0, top: 3300 }}>
        <PitchPanel />
      </div>
      <Labels />
    </div>
  );
}
